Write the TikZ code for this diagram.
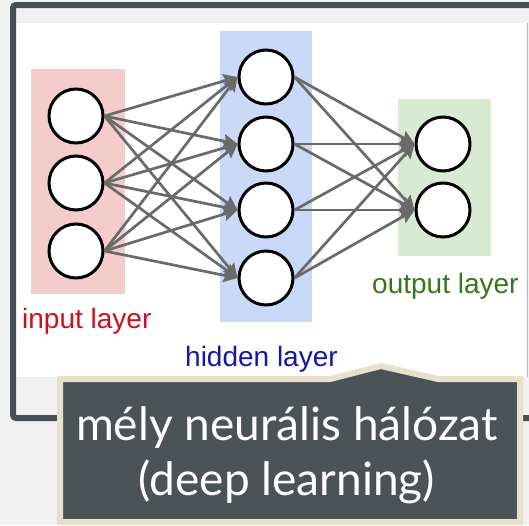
\documentclass[tikz,border=0pt]{standalone}
\usepackage{xcolor}
\usepackage{fontspec}
\setmainfont{Liberation Sans}
\newfontfamily\calloutfont{Lato}
\usetikzlibrary{arrows.meta}
\definecolor{framegray}{HTML}{474F52}
\definecolor{bggray}{HTML}{F1F1F1}
\definecolor{inred}{HTML}{F4CCCC}
\definecolor{hidblue}{HTML}{C9DAF8}
\definecolor{outgreen}{HTML}{D9EAD3}
\definecolor{inredtext}{HTML}{CC1020}
\definecolor{hidbluetext}{HTML}{1515A6}
\definecolor{outgreentext}{HTML}{38761D}
\definecolor{calldark}{HTML}{4A5457}
\definecolor{callbeige}{HTML}{E6E0CC}
\definecolor{edgegray}{HTML}{6A6A6A}
\tikzstyle{neuron} = [circle,
minimum size=54pt,
inner sep=0pt,
line width=3pt,
draw=black,
fill=white]
\tikzstyle{arrow} = [line width=2.7pt,draw=edgegray,->,>={Stealth[length=14pt,width=14pt,inset=2pt]}]
\tikzstyle{layername} = [anchor=base west, inner sep=0pt, font=\fontsize{28}{32}\selectfont]
\tikzstyle{calltext} = [anchor=base, inner sep=0pt, text=white, font=\calloutfont\fontsize{46}{52}\selectfont]

\begin{document}
\begin{tikzpicture}[x=1pt,y=-1pt]
				\useasboundingbox (0,0) rectangle (529,525);
				\fill[bggray] (0,0) rectangle (529,525);
				\fill[white] (16,23) rectangle (526,377);
				\draw[gray!50, line width=1pt] (527,23) -- (527,377);
				\draw[framegray, line width=6pt, rounded corners=3pt] (13,5) rectangle (545,418);

				\fill[inred] (31,69) rectangle (125,294);
				\fill[hidblue] (220,31) rectangle (312,322);
				\fill[outgreen] (398,99) rectangle (491,256);

				\node[neuron] (i1) at (76,116) {};
				\node[neuron] (i2) at (76,183) {};
				\node[neuron] (i3) at (76,251) {};
				\node[neuron] (h1) at (266,77) {};
				\node[neuron] (h2) at (266,144) {};
				\node[neuron] (h3) at (266,210) {};
				\node[neuron] (h4) at (266,278) {};
				\node[neuron] (o1) at (443,144) {};
				\node[neuron] (o2) at (443,210) {};

				\node[layername, text=inredtext] (in-l) at (22,328) {input layer};
				\node[layername, text=hidbluetext] (hid-l) at (185,366) {hidden layer};
				\node[layername, text=outgreentext] (out-l) at (372,293) {output layer};

				\draw[arrow] (i1.east) -- (h1.west);
				\draw[arrow] (i1.east) -- (h2.west);
				\draw[arrow] (i1.east) -- (h3.west);
				\draw[arrow] (i1.east) -- (h4.west);
				\draw[arrow] (i2.east) -- (h1.west);
				\draw[arrow] (i2.east) -- (h2.west);
				\draw[arrow] (i2.east) -- (h3.west);
				\draw[arrow] (i2.east) -- (h4.west);
				\draw[arrow] (i3.east) -- (h1.west);
				\draw[arrow] (i3.east) -- (h2.west);
				\draw[arrow] (i3.east) -- (h3.west);
				\draw[arrow] (i3.east) -- (h4.west);
				\draw[arrow] (h1.east) -- (o1.west);
				\draw[arrow] (h1.east) -- (o2.west);
				\draw[arrow] (h2.east) -- (o1.west);
				\draw[arrow] (h2.east) -- (o2.west);
				\draw[arrow] (h3.east) -- (o1.west);
				\draw[arrow] (h3.east) -- (o2.west);
				\draw[arrow] (h4.east) -- (o1.west);
				\draw[arrow] (h4.east) -- (o2.west);

				\draw[callbeige, fill=calldark, line width=6pt] (60,379) -- (330,379) -- (381,366) -- (438,379) -- (520,379) -- (520,522) -- (60,522) -- cycle;
				\node[calltext] (call1) at (287,440) {mély neurális hálózat};
				\node[calltext] (call2) at (287,495) {(deep learning)};
			\end{tikzpicture}
\end{document}
